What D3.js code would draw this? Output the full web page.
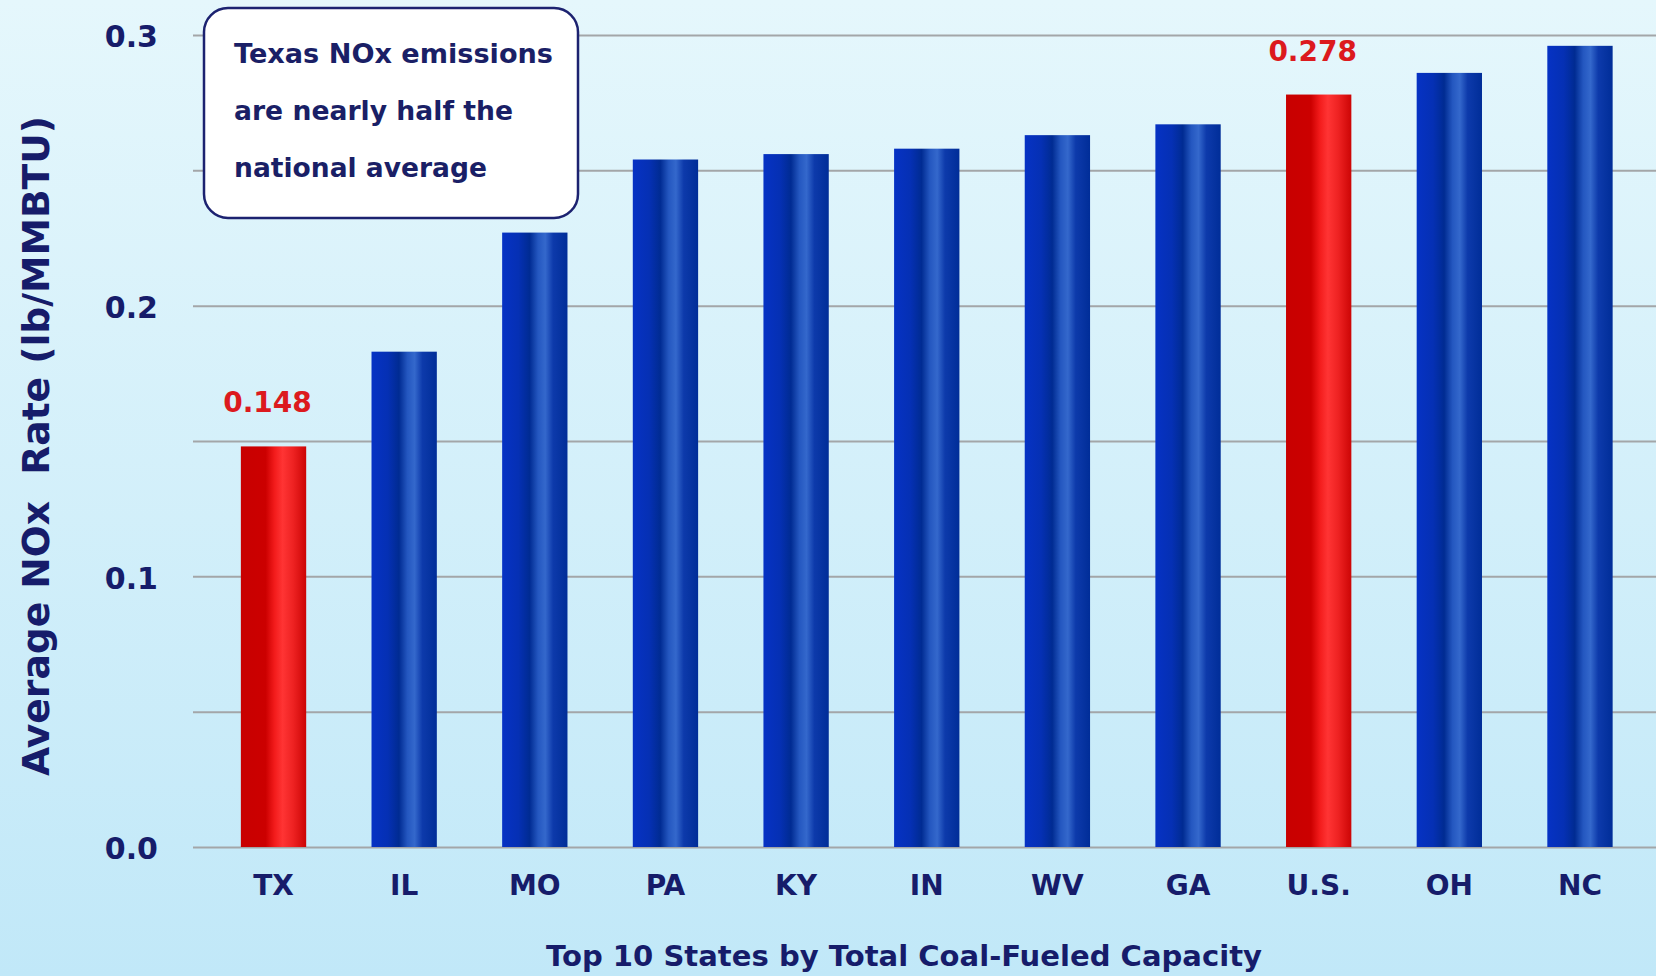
<!DOCTYPE html>
<html>
<head>
<meta charset="utf-8">
<script src="https://cdn.jsdelivr.net/npm/d3@7/dist/d3.min.js"></script>
<style>
  html, body { margin: 0; padding: 0; overflow: hidden; }
  svg { display: block; }
  text { font-family: "DejaVu Sans", sans-serif; font-weight: bold; }
</style>
</head>
<body>
<svg id="chart" width="1656" height="976"></svg>
<script>
// Average NOx emission rate (lb/MMBTU), top 10 coal-capacity states plus U.S. average
const categories = ["TX", "IL", "MO", "PA", "KY", "IN", "WV", "GA", "U.S.", "OH", "NC"];
const noxRates   = [0.148, 0.183, 0.227, 0.254, 0.256, 0.258, 0.263, 0.267, 0.278, 0.286, 0.296];
const highlighted = ["TX", "U.S."];
const labelTicks = [0.0, 0.1, 0.2, 0.3];
const gridTicks  = [0.0, 0.05, 0.1, 0.15, 0.2, 0.25, 0.3];
const yTitle = "Average NOx\u00a0\u00a0Rate (lb/MMBTU)";
const xTitle = "Top 10 States by Total Coal-Fueled Capacity";
const noteLines = ["Texas NOx emissions", "are nearly half the", "national average"];

const W = 1656, H = 976;
const svg = d3.select("#chart");
const defs = svg.append("defs");

// background wash
const bg = defs.append("linearGradient").attr("id", "bg")
  .attr("x1", 0).attr("y1", 0).attr("x2", 0).attr("y2", 1);
bg.append("stop").attr("offset", "0%").attr("stop-color", "#e5f7fc");
bg.append("stop").attr("offset", "100%").attr("stop-color", "#c1e8f8");
svg.append("rect").attr("width", W).attr("height", H).attr("fill", "url(#bg)");

// cylindrical bar shading
function barGradient(id, stops) {
  const g = defs.append("linearGradient").attr("id", id)
    .attr("x1", 0).attr("y1", 0).attr("x2", 1).attr("y2", 0);
  stops.forEach(([o, c]) => g.append("stop").attr("offset", o).attr("stop-color", c));
}
barGradient("blueBar", [["0%", "#0632c4"], ["25%", "#0530b4"], ["42%", "#002b92"],
  ["55%", "#2457c0"], ["66%", "#3468cc"], ["78%", "#0d3aab"], ["100%", "#002d98"]]);
barGradient("redBar", [["0%", "#c80000"], ["38%", "#cc0000"], ["52%", "#f31c1c"],
  ["64%", "#ff3434"], ["80%", "#ee2222"], ["100%", "#cc0505"]]);

const x = d3.scaleBand().domain(categories).range([208.2, 1645.3])
  .paddingInner(0.5).paddingOuter(0.25);
const y = d3.scaleLinear().domain([0, 0.3]).range([847, 35]);

const navy = "#161c6a";

// gridlines
const grid = svg.append("g")
  .attr("transform", "translate(193,0)")
  .call(d3.axisRight(y).tickValues(gridTicks).tickSize(W - 193).tickFormat(""));
grid.select(".domain").remove();
grid.selectAll(".tick line").attr("stroke", "#a3a6a8").attr("stroke-width", 2);

// y tick labels
const yAxis = svg.append("g")
  .attr("transform", "translate(193,0)")
  .call(d3.axisLeft(y).tickValues(labelTicks).tickSize(0).tickPadding(35).tickFormat(d3.format(".1f")));
yAxis.select(".domain").remove();
yAxis.selectAll(".tick text")
  .attr("fill", navy).attr("font-size", 30).attr("dy", "0.39em")
  .style("font-family", "'DejaVu Sans', sans-serif").style("font-weight", "bold");

// bars
svg.append("g").selectAll("rect")
  .data(categories.map((c, i) => ({ c, v: noxRates[i] })))
  .join("rect")
  .attr("x", d => x(d.c))
  .attr("y", d => y(d.v))
  .attr("width", x.bandwidth())
  .attr("height", d => y(0) - y(d.v))
  .attr("fill", d => highlighted.includes(d.c) ? "url(#redBar)" : "url(#blueBar)");

// value labels on highlighted bars
svg.append("g").selectAll("text")
  .data(categories.map((c, i) => ({ c, v: noxRates[i] })).filter(d => highlighted.includes(d.c)))
  .join("text")
  .attr("x", d => x(d.c) + x.bandwidth() / 2 - 6)
  .attr("y", d => y(d.v) - 34)
  .attr("text-anchor", "middle")
  .attr("font-size", 28)
  .attr("fill", "#dc1a1e")
  .text(d => d3.format(".3f")(d.v));

// x category labels
const xAxis = svg.append("g")
  .attr("transform", "translate(0,847)")
  .call(d3.axisBottom(x).tickSize(0).tickPadding(0));
xAxis.select(".domain").remove();
xAxis.selectAll(".tick text")
  .attr("y", 48).attr("dy", 0)
  .attr("fill", navy).attr("font-size", 28)
  .style("font-family", "'DejaVu Sans', sans-serif").style("font-weight", "bold");

// axis titles
svg.append("text")
  .attr("transform", "translate(49,446) rotate(-90)")
  .attr("text-anchor", "middle")
  .attr("font-size", 38)
  .attr("fill", navy)
  .attr("textLength", 660).attr("lengthAdjust", "spacingAndGlyphs")
  .text(yTitle);

svg.append("text")
  .attr("x", 904).attr("y", 966)
  .attr("text-anchor", "middle")
  .attr("font-size", 29)
  .attr("fill", navy)
  .attr("textLength", 716).attr("lengthAdjust", "spacingAndGlyphs")
  .text(xTitle);

// callout box
const note = svg.append("g");
note.append("rect")
  .attr("x", 204).attr("y", 8).attr("width", 374).attr("height", 210)
  .attr("rx", 24).attr("ry", 24)
  .attr("fill", "#ffffff").attr("stroke", "#1c2270").attr("stroke-width", 2.5);
const noteWidths = [319, 279, 253];
note.selectAll("text").data(noteLines).join("text")
  .attr("x", 234)
  .attr("y", (d, i) => 63 + i * 57)
  .attr("font-size", 27)
  .attr("fill", "#1a1f66")
  .attr("textLength", (d, i) => noteWidths[i]).attr("lengthAdjust", "spacingAndGlyphs")
  .text(d => d);
</script>
</body>
</html>
